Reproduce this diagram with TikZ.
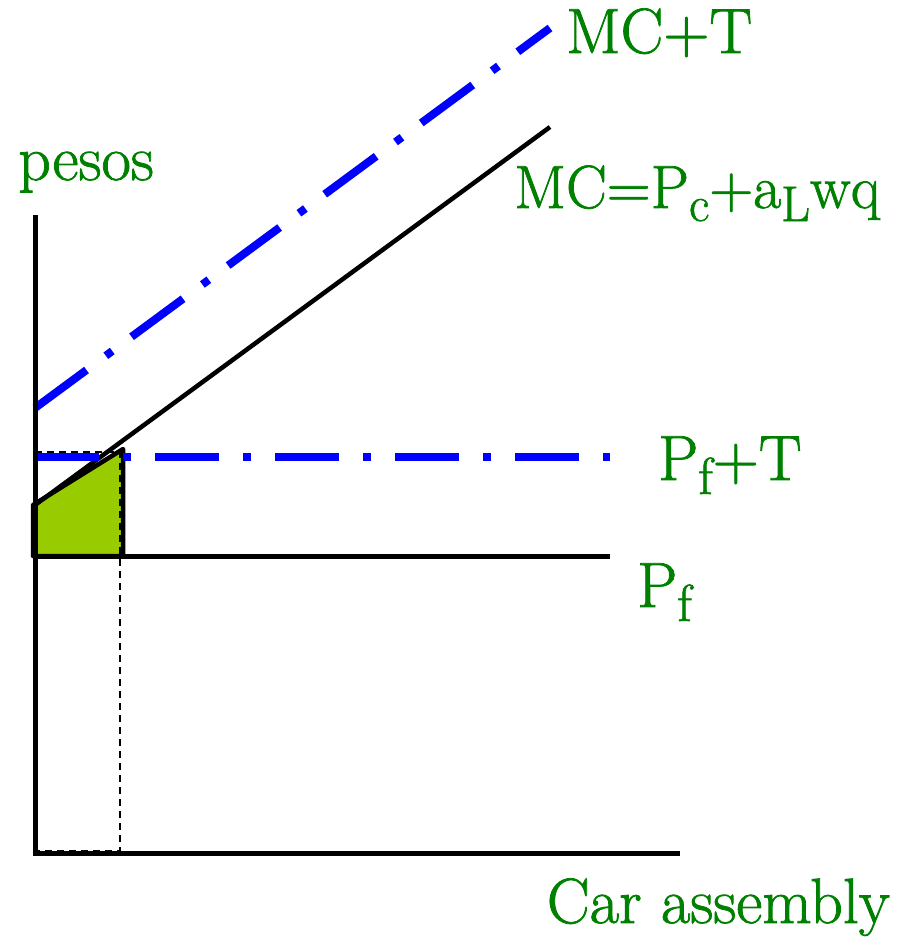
\documentclass[tikz,border=0pt]{standalone}
\usepackage{fontspec}
\newfontfamily\lblfont{Latin Modern Roman}[FakeBold=1.2]
\definecolor{lblgreen}{RGB}{0,128,0}
\definecolor{fillg}{RGB}{153,204,0}
\definecolor{lineblue}{RGB}{0,0,255}
\newcommand{\lowsub}[1]{\raisebox{-14pt}{\fontsize{52}{52}\lblfont #1}}
\newcommand{\lowsubsm}[1]{\raisebox{-13pt}{\fontsize{50}{50}\lblfont #1}}
\begin{document}
\begin{tikzpicture}[x=1pt,y=-1pt,
  lbl/.style={text=lblgreen, font=\fontsize{64}{70}\lblfont, inner sep=0pt},
  lblsm/.style={text=lblgreen, font=\fontsize{61}{70}\lblfont, inner sep=0pt},
  axisline/.style={line width=5pt, black},
  curve/.style={line width=4.5pt, black},
  taxline/.style={line width=8pt, lineblue, dash pattern=on 64pt off 24pt on 8pt off 24pt},
  guide/.style={line width=1.5pt, black, dash pattern=on 7pt off 5pt},
  area/.style={fill=fillg, draw=black, line width=4.5pt, line join=round}]
\useasboundingbox (0,0) rectangle (904,945);
% coordinates
\coordinate (ytop) at (35,215);
\coordinate (orig) at (35,853);
\coordinate (xend) at (680,853);
\coordinate (mc0) at (35,505);
\coordinate (mc1) at (550,127);
\coordinate (mct0) at (35,408);
\coordinate (mct1) at (550,28);
\coordinate (pft0) at (35,457);
\coordinate (pft1) at (610,457);
\coordinate (pf0) at (35,556);
\coordinate (pf1) at (610,556);
\coordinate (a1) at (33,505);
\coordinate (a2) at (123,449);
\coordinate (a3) at (123,556);
\coordinate (a4) at (33,556);
\coordinate (g0) at (35,452);
\coordinate (g1) at (120,452);
\coordinate (g2) at (120,851);
\coordinate (g3) at (35,851);
% shaded area
\draw[area] (a1) -- (a2) -- (a3) -- (a4) -- cycle;
% guides
\draw[guide] (g0) -- (g1) -- (g2) -- (g3);
% lines
\draw[curve] (mc0) -- (mc1);
\draw[axisline] (pf0) -- (pf1);
\draw[taxline] (pft0) -- (pft1);
\draw[taxline] (mct0) -- (mct1);
\draw[axisline] (ytop) -- (orig) -- (xend);
% labels
\node[lbl, anchor=base west] (pesos) at (18,180) {pesos};
\node[lbl, anchor=base west] (mctlbl) at (566,53) {MC+T};
\node[lblsm, anchor=base west] (mclbl) at (514,208) {MC=P\lowsubsm{c}+a\lowsubsm{L}wq};
\node[lbl, anchor=base west] (pftlbl) at (658,480) {P\lowsub{f}+T};
\node[lbl, anchor=base west] (pflbl) at (637,607) {P\lowsub{f}};
\node[lbl, anchor=base east] (xlbl) at (890,923) {Car assembly};
\end{tikzpicture}
\end{document}
